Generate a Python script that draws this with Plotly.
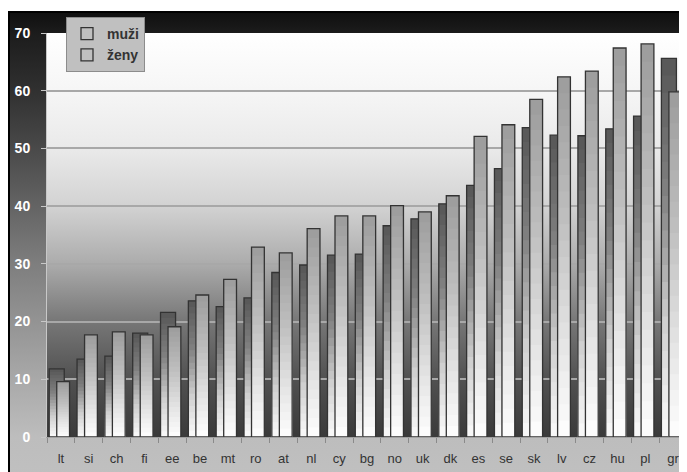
import base64
import plotly.graph_objects as go

# ---- data ----
categories = ["lt", "si", "ch", "fi", "ee", "be", "mt", "ro", "at", "nl", "cy", "bg",
              "no", "uk", "dk", "es", "se", "sk", "lv", "cz", "hu", "pl", "gr"]
muzi = [11.8, 13.5, 14.0, 18.0, 21.6, 23.6, 22.6, 24.1, 28.5, 29.8, 31.5, 31.7,
        36.6, 37.8, 40.4, 43.6, 46.5, 53.6, 52.3, 52.2, 53.4, 55.6, 65.6]
zeny = [9.6, 17.7, 18.2, 17.7, 19.1, 24.6, 27.3, 32.9, 31.9, 36.1, 38.3, 38.3,
        40.1, 39.0, 41.8, 52.1, 54.1, 58.5, 62.4, 63.4, 67.4, 68.1, 59.8]
series_names = ["muži", "ženy"]
y_ticks = [0, 10, 20, 30, 40, 50, 60, 70]

# ---- layout geometry (figure coordinates; page adds 8px body margin) ----
W, H = 687, 472
L, R, T, B = 39, 8, 25, 43
PW, PH = W - L - R, H - T - B


def interp(stops, t):
    for (t0, g0), (t1, g1) in zip(stops, stops[1:]):
        if t0 <= t <= t1:
            g = int(round(g0 + (g1 - g0) * (t - t0) / (t1 - t0)))
            return f"rgb({g},{g},{g})"
    g = stops[-1][1]
    return f"rgb({g},{g},{g})"


def svg_uri(svg):
    return "data:image/svg+xml;base64," + base64.b64encode(svg.encode("utf-8")).decode()


def grad_svg(w, h, stops, extra=""):
    st = "".join(f'<stop offset="{o:.3f}" stop-color="{c}"/>' for o, c in stops)
    return (f'<svg xmlns="http://www.w3.org/2000/svg" width="{w}" height="{h}" '
            f'viewBox="0 0 {w} {h}" preserveAspectRatio="none">'
            f'<defs><linearGradient id="g" x1="0" y1="0" x2="0" y2="1">{st}</linearGradient></defs>'
            f'<rect x="0" y="0" width="{w}" height="{h}" fill="url(#g)"/>{extra}</svg>')


# outer chart area (from fig y=3 to bottom)
oy0 = 3
ow, oh = W, H - oy0
outer_stops = [(0.0, "#0e0e0e"), ((T - oy0) / oh, "#1c1c1c"), ((T + 57 - oy0) / oh, "#303030"),
               ((T + 117 - oy0) / oh, "#4a4a4a"), ((T + 231 - oy0) / oh, "#7e7e7e"),
               ((T + 347 - oy0) / oh, "#a9a9a9"), ((T + PH - oy0) / oh, "#bdbdbd"), (1.0, "#c0c0c0")]
outer_svg = grad_svg(ow, oh, outer_stops,
                     extra=f'<path d="M1,{oh} V1 H{ow}" stroke="#000" stroke-width="2" fill="none"/>')

# plot area background (top = 70, bottom = 0)
plot_stops = [(0.0, "#ffffff"), (0.14, "#f6f6f6"), (0.29, "#e9e9e9"), (0.43, "#d2d2d2"),
              (0.57, "#acacac"), (0.71, "#787878"), (0.86, "#505050"), (1.0, "#3a3a3a")]
plot_svg = grad_svg(PW, PH, plot_stops)

men_grad = [(0.0, 0x56), (0.35, 0x80), (0.7, 0xcf), (1.0, 0xfa)]
women_grad = [(0.0, 0x9c), (0.4, 0xbf), (0.75, 0xe6), (1.0, 0xfe)]
N = 22

fig = go.Figure()


def add_series(vals, name, grad, offset, width):
    for k in range(N):
        f = 1 - k / N
        fig.add_trace(go.Bar(
            x=categories, y=[v * f for v in vals], offset=offset, width=width,
            marker=dict(color=interp(grad, (k + 0.5) / N), line=dict(width=0)),
            showlegend=False, hoverinfo="skip"))
    fig.add_trace(go.Bar(
        x=categories, y=vals, name=name, offset=offset, width=width,
        marker=dict(color="rgba(0,0,0,0)", line=dict(color="#333333", width=1.3)),
        showlegend=True))


add_series(muzi, series_names[0], men_grad, -0.42, 0.54)
add_series(zeny, series_names[1], women_grad, -0.15, 0.46)

fig.update_layout(
    width=W, height=H,
    margin=dict(l=L, r=R, t=T, b=B, pad=0),
    barmode="overlay",
    paper_bgcolor="#ffffff",
    plot_bgcolor="rgba(0,0,0,0)",
    images=[
        dict(source=svg_uri(outer_svg), xref="paper", yref="paper",
             x=-L / PW, y=(H - B - oy0) / PH, sizex=ow / PW, sizey=oh / PH,
             xanchor="left", yanchor="top", sizing="stretch", layer="below"),
        dict(source=svg_uri(plot_svg), xref="paper", yref="paper",
             x=0, y=1, sizex=1, sizey=1, xanchor="left", yanchor="top",
             sizing="stretch", layer="below"),
    ],
    xaxis=dict(
        type="category", tickson="boundaries", ticks="outside", ticklen=5,
        tickcolor="#8a8a8a", showline=True, linecolor="#a0a0a0", linewidth=1,
        showgrid=False, ticklabelstandoff=9,
        tickfont=dict(family="Liberation Sans, Arial, sans-serif", size=13, color="#333333"),
    ),
    yaxis=dict(
        range=[0, 70], tickvals=y_ticks, ticks="outside", ticklen=5,
        tickcolor="#c8c8c8", showline=True, linecolor="#c8c8c8", linewidth=1,
        gridcolor="#a8a8a8", gridwidth=1.5, zeroline=False, ticklabelstandoff=8,
        tickfont=dict(family="Liberation Sans Narrow, Liberation Sans, Arial, sans-serif",
                      size=14, color="#ffffff", weight="bold"),
    ),
    legend=dict(
        x=(58 - L) / PW, y=(H - B - 9) / PH, xanchor="left", yanchor="top",
        bgcolor="#c0c0c0", bordercolor="#8c8c8c", borderwidth=1,
        font=dict(family="Liberation Sans, Arial, sans-serif", size=14, color="#333333",
                  weight="bold"),
        itemwidth=30, tracegroupgap=0,
    ),
)

fig.write_html("out.html")
